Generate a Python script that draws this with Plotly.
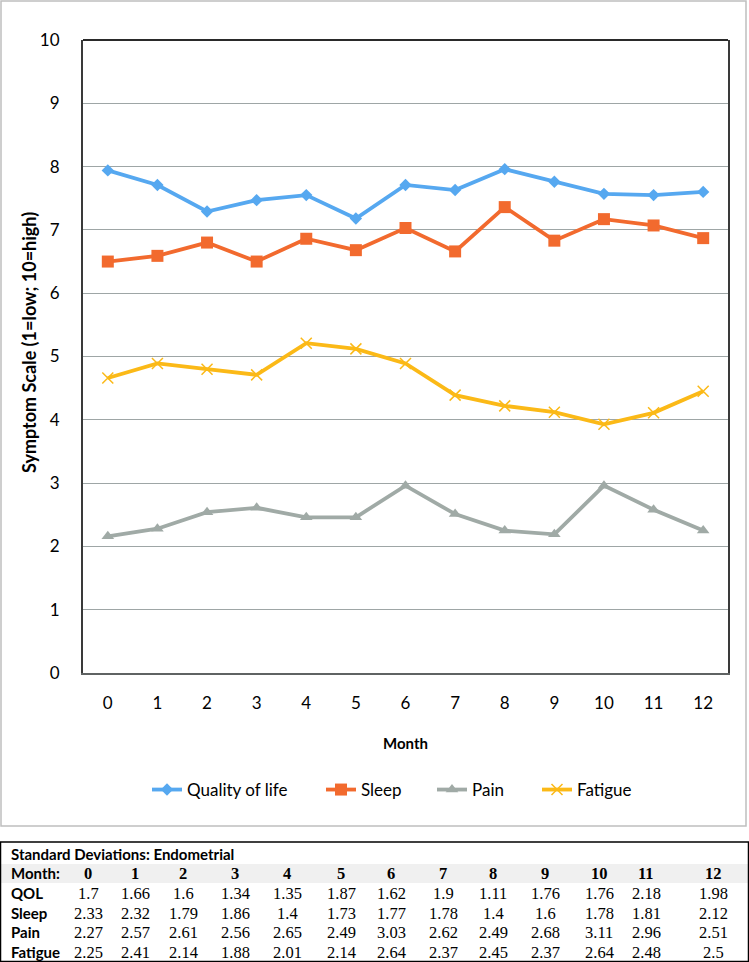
import plotly.graph_objects as go

W, H = 749, 962

months = list(range(13))
month_labels = [str(m) for m in months]

qol = [7.94, 7.71, 7.29, 7.47, 7.55, 7.18, 7.71, 7.63, 7.96, 7.76, 7.57, 7.55, 7.60]
sleep = [6.50, 6.59, 6.80, 6.50, 6.86, 6.68, 7.03, 6.66, 7.36, 6.83, 7.17, 7.07, 6.87]
pain = [2.16, 2.28, 2.54, 2.61, 2.46, 2.46, 2.96, 2.51, 2.25, 2.19, 2.96, 2.58, 2.25]
fatigue = [4.66, 4.89, 4.80, 4.71, 5.21, 5.12, 4.89, 4.39, 4.22, 4.12, 3.93, 4.11, 4.45]

series_names = ["Quality of life", "Sleep", "Pain", "Fatigue"]
y_ticks = list(range(11))

sd_title = "Standard Deviations: Endometrial"
sd_row_labels = ["QOL", "Sleep", "Pain", "Fatigue"]
sd_qol = ["1.7", "1.66", "1.6", "1.34", "1.35", "1.87", "1.62", "1.9", "1.11", "1.76", "1.76", "2.18", "1.98"]
sd_sleep = ["2.33", "2.32", "1.79", "1.86", "1.4", "1.73", "1.77", "1.78", "1.4", "1.6", "1.78", "1.81", "2.12"]
sd_pain = ["2.27", "2.57", "2.61", "2.56", "2.65", "2.49", "3.03", "2.62", "2.49", "2.68", "3.11", "2.96", "2.51"]
sd_fatigue = ["2.25", "2.41", "2.14", "1.88", "2.01", "2.14", "2.64", "2.37", "2.45", "2.37", "2.64", "2.48", "2.5"]

# ---- layout helpers (pixel -> paper) ----
def px(x):
    return x / W

def py(y):
    return 1 - y / H

colors = ["#56a8f0", "#f26a2e", "#a0aaa6", "#fbb917"]
symbols = ["diamond", "square", "triangle-up", "x-thin-open"]
sizes = [9.5, 12, 11, 11]
legend_ids = ["legend", "legend2", "legend3", "legend4"]
legend_x = [147, 321, 432, 537]

sans = "Lato"
fig = go.Figure()
for name, vals, c, s, sz, lid in zip(series_names, [qol, sleep, pain, fatigue], colors, symbols, sizes, legend_ids):
    marker = dict(symbol=s, size=sz, color=c)
    if s == "x-thin-open":
        marker["line"] = dict(color=c, width=1.5)
    fig.add_trace(go.Scatter(
        x=months, y=vals, mode="lines+markers", name=name,
        line=dict(color=c, width=3.8), marker=marker, legend=lid,
    ))

tick_font = dict(family=sans, size=17, color="#000000")

plot_l, plot_r, plot_t, plot_b = 83, 728, 40, 673

legend_cfg = {}
for lid, lx in zip(legend_ids, legend_x):
    legend_cfg[lid] = dict(
        orientation="h", x=px(lx), y=py(790), xanchor="left", yanchor="middle",
        font=dict(family=sans, size=17, color="#000000"),
        bgcolor="rgba(0,0,0,0)",
    )

fig.update_layout(
    width=W, height=H,
    margin=dict(l=0, r=0, t=0, b=0, pad=0, autoexpand=False),
    paper_bgcolor="white", plot_bgcolor="white",
    showlegend=True,
    xaxis=dict(
        domain=[px(plot_l), px(plot_r)],
        range=[-0.5, 12.5],
        tickmode="array", tickvals=months, ticktext=month_labels,
        showgrid=False, zeroline=False,
        showline=True, linecolor="#5f6363", linewidth=2,
        ticks="", tickfont=tick_font, ticklabelstandoff=14,
        fixedrange=True, automargin=False,
    ),
    yaxis=dict(
        domain=[py(plot_b), py(plot_t)],
        range=[0, 10],
        tickmode="array", tickvals=y_ticks,
        showgrid=True, gridcolor="#9ea6a6", gridwidth=1,
        zeroline=False,
        showline=True, linecolor="#3a3a3a", linewidth=2, mirror=True,
        ticks="", tickfont=tick_font, ticklabelstandoff=18,
        fixedrange=True, automargin=False,
    ),
    **legend_cfg,
)

shapes = []
# outer chart frame
shapes.append(dict(type="rect", xref="paper", yref="paper",
                   x0=px(1), x1=px(746), y0=py(826), y1=py(1),
                   line=dict(color="#bfbfbf", width=1.5), fillcolor="rgba(0,0,0,0)", layer="below"))
# top border of plot area
shapes.append(dict(type="line", xref="paper", yref="paper",
                   x0=px(plot_l), x1=px(plot_r), y0=py(plot_t), y1=py(plot_t),
                   line=dict(color="#2a2a2a", width=2)))
# table month row background
shapes.append(dict(type="rect", xref="paper", yref="paper",
                   x0=px(1), x1=px(748), y0=py(883), y1=py(864),
                   line=dict(width=0), fillcolor="#f0f0f0", layer="below"))
# table frame
shapes.append(dict(type="rect", xref="paper", yref="paper",
                   x0=px(0.5), x1=px(748.5), y0=py(961.5), y1=py(842),
                   line=dict(color="#000000", width=1.5), fillcolor="rgba(0,0,0,0)"))
fig.update_layout(shapes=shapes)

annotations = []
# axis titles
annotations.append(dict(text="<b>Symptom Scale (1=low; 10=high)</b>", xref="paper", yref="paper",
                        x=px(29), y=py(343), textangle=-90, showarrow=False,
                        xanchor="center", yanchor="middle",
                        font=dict(family=sans, size=18, color="#000000")))
annotations.append(dict(text="<b>Month</b>", xref="paper", yref="paper",
                        x=px((plot_l + plot_r) / 2), y=py(743), showarrow=False,
                        xanchor="center", yanchor="middle",
                        font=dict(family=sans, size=15, color="#000000")))

# table
col_centers = [88, 135, 183, 235, 287, 341, 391, 443, 493, 545, 599, 646, 713]
label_font = dict(family=sans, size=15, color="#000000")
serif = dict(family="Liberation Serif", size=16.5, color="#000000")

annotations.append(dict(text="<b>" + sd_title + "</b>", xref="paper", yref="paper",
                        x=px(9), y=py(854), xanchor="left", yanchor="middle",
                        showarrow=False, font=label_font))
annotations.append(dict(text="<b>Month:</b>", xref="paper", yref="paper",
                        x=px(9), y=py(873), xanchor="left", yanchor="middle",
                        showarrow=False, font=label_font))
for cx, m in zip(col_centers, month_labels):
    annotations.append(dict(text="<b>" + m + "</b>", xref="paper", yref="paper",
                            x=px(cx), y=py(873), xanchor="center", yanchor="middle",
                            showarrow=False, font=serif))

row_ys = [893, 913, 932, 952]
for lab, vals, ry in zip(sd_row_labels, [sd_qol, sd_sleep, sd_pain, sd_fatigue], row_ys):
    annotations.append(dict(text="<b>" + lab + "</b>", xref="paper", yref="paper",
                            x=px(9), y=py(ry), xanchor="left", yanchor="middle",
                            showarrow=False, font=label_font))
    for cx, v in zip(col_centers, vals):
        annotations.append(dict(text=v, xref="paper", yref="paper",
                                x=px(cx), y=py(ry), xanchor="center", yanchor="middle",
                                showarrow=False, font=serif))

fig.update_layout(annotations=annotations)

fig.write_html(
    "out.html",
    config={"displayModeBar": False},
    post_script="document.body.style.margin='0';document.body.style.overflow='hidden';",
)
